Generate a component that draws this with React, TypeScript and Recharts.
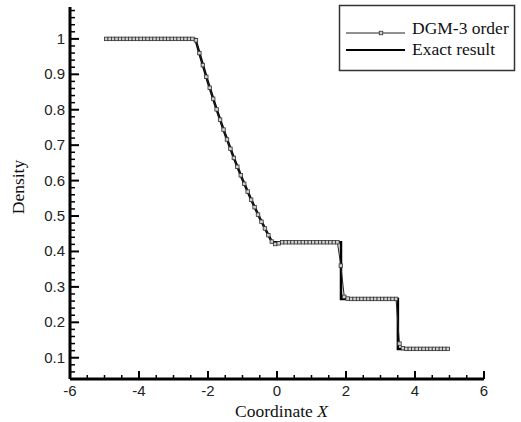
import { LineChart, Line, XAxis, YAxis, Label } from "recharts";

const seriesNames = ["DGM-3 order", "Exact result"];

const xMajorTicks = [-6, -4, -2, 0, 2, 4, 6];
const yMajorTicks = [0.1, 0.2, 0.3, 0.4, 0.5, 0.6, 0.7, 0.8, 0.9, 1];

// cell centres of the DG solution
const dgmX = [
  -4.95, -4.85, -4.75, -4.65, -4.55, -4.45, -4.35, -4.25, -4.15, -4.05,
  -3.95, -3.85, -3.75, -3.65, -3.55, -3.45, -3.35, -3.25, -3.15, -3.05,
  -2.95, -2.85, -2.75, -2.65, -2.55, -2.45, -2.35, -2.25, -2.15, -2.05,
  -1.95, -1.85, -1.75, -1.65, -1.55, -1.45, -1.35, -1.25, -1.15, -1.05,
  -0.95, -0.85, -0.75, -0.65, -0.55, -0.45, -0.35, -0.25, -0.15, -0.05,
  0.05, 0.15, 0.25, 0.35, 0.45, 0.55, 0.65, 0.75, 0.85, 0.95,
  1.05, 1.15, 1.25, 1.35, 1.45, 1.55, 1.65, 1.75, 1.85, 1.95,
  2.05, 2.15, 2.25, 2.35, 2.45, 2.55, 2.65, 2.75, 2.85, 2.95,
  3.05, 3.15, 3.25, 3.35, 3.45, 3.55, 3.65, 3.75, 3.85, 3.95,
  4.05, 4.15, 4.25, 4.35, 4.45, 4.55, 4.65, 4.75, 4.85, 4.95,
];

const dgmDensity = [
  1, 1, 1, 1, 1, 1, 1, 1, 1, 1,
  1, 1, 1, 1, 1, 1, 1, 1, 1, 1,
  1, 1, 1, 1, 1, 1, 0.996, 0.96, 0.926, 0.893,
  0.862, 0.831, 0.801, 0.772, 0.744, 0.716, 0.69, 0.664, 0.639, 0.615,
  0.591, 0.569, 0.546, 0.525, 0.504, 0.484, 0.465, 0.446, 0.428, 0.421,
  0.423, 0.426, 0.426, 0.426, 0.426, 0.426, 0.426, 0.426, 0.426, 0.426,
  0.426, 0.426, 0.426, 0.426, 0.426, 0.426, 0.426, 0.426, 0.36, 0.272,
  0.267, 0.266, 0.266, 0.266, 0.266, 0.266, 0.266, 0.266, 0.266, 0.266,
  0.266, 0.266, 0.266, 0.266, 0.266, 0.14, 0.127, 0.125, 0.125, 0.125,
  0.125, 0.125, 0.125, 0.125, 0.125, 0.125, 0.125, 0.125, 0.125, 0.125,
];

const exactX = [-5, -2.366, -2.25, -2, -1.75, -1.5, -1.25, -1, -0.75, -0.5, -0.25, -0.14, 1.855, 1.855, 3.504, 3.504, 5];
const exactDensity = [1, 1, 0.9597, 0.8774, 0.801, 0.73, 0.664, 0.603, 0.5464, 0.4943, 0.4462, 0.4263, 0.4263, 0.2656, 0.2656, 0.125, 0.125];

const dgmData = dgmX.map((x, i) => ({ x, density: dgmDensity[i] }));
const exactData = exactX.map((x, i) => ({ x, density: exactDensity[i] }));

const stepTicks = (from: number, to: number, step: number) => {
  const out: number[] = [];
  for (let v = from; v <= to + 1e-9; v += step) out.push(Math.round(v * 1000) / 1000);
  return out;
};
const xTicks = stepTicks(-6, 6, 0.5);
const yTicks = stepTicks(0.06, 1.08, 0.02);

const isMajor = (list: number[], v: number) => list.some((m) => Math.abs(m - v) < 1e-6);

const SANS = "'Liberation Sans', Arial, sans-serif";
const SERIF = "'Liberation Serif', 'Times New Roman', serif";

// ticks point inward, labels stay outside
const XTick = (props: any) => {
  const { x, y, payload } = props;
  const major = isMajor(xMajorTicks, payload.value);
  return (
    <g>
      <line x1={x} x2={x} y1={y} y2={y - (major ? 8 : 4)} stroke="#000" strokeWidth={major ? 2 : 1.5} />
      {major && (
        <text x={x} y={y + 17} textAnchor="middle" fontFamily={SANS} fontSize={15} fill="#222">
          {payload.value}
        </text>
      )}
    </g>
  );
};

const YTick = (props: any) => {
  const { x, y, payload } = props;
  const major = isMajor(yMajorTicks, payload.value);
  return (
    <g>
      <line x1={x} x2={x + (major ? 9 : 5)} y1={y} y2={y} stroke="#000" strokeWidth={major ? 2 : 1.5} />
      {major && (
        <text x={x - 5} y={y + 5} textAnchor="end" fontFamily={SANS} fontSize={15} fill="#222">
          {payload.value}
        </text>
      )}
    </g>
  );
};

const SquareDot = (props: any) => {
  const { cx, cy, index } = props;
  return <rect key={index} x={cx - 1.75} y={cy - 1.75} width={3.5} height={3.5} fill="#d0d0d0" stroke="#333" strokeWidth={0.8} />;
};

// legend frame in page coordinates
const LegendBox = () => (
  <svg width={521} height={422} style={{ position: "absolute", left: 0, top: 0, pointerEvents: "none" }}>
    <rect x={339.5} y={5.5} width={175} height={65} fill="#fff" stroke="#333" strokeWidth={1.5} />
    <line x1={346} x2={405} y1={33} y2={33} stroke="#222" strokeWidth={1} />
    <rect x={379.25} y={31.25} width={3.5} height={3.5} fill="#d0d0d0" stroke="#333" strokeWidth={0.8} />
    <text x={412} y={34} fontFamily={SERIF} fontSize={17.5} fill="#111">
      {seriesNames[0]}
    </text>
    <line x1={346} x2={405} y1={50} y2={50} stroke="#000" strokeWidth={2} />
    <text x={412} y={55} fontFamily={SERIF} fontSize={17.5} fill="#111">
      {seriesNames[1]}
    </text>
  </svg>
);

export default function App() {
  return (
    <div style={{ position: "absolute", left: 0, top: 0, width: 521, height: 422, background: "#fff" }}>
      <LineChart width={521} height={422} margin={{ top: 7, right: 37, left: 30, bottom: 13 }}>
        <XAxis
          type="number"
          dataKey="x"
          domain={[-6, 6]}
          ticks={xTicks}
          interval={0}
          tick={<XTick />}
          tickSize={0}
          tickMargin={0}
          tickLine={false}
          axisLine={{ stroke: "#000", strokeWidth: 3 }}
          height={30}
          allowDataOverflow
        >
          <Label
            content={(p: any) => {
              const vb = p.viewBox;
              return (
                <text x={vb.x + vb.width / 2 + 4.5} y={vb.y + 38} textAnchor="middle" fontFamily={SERIF} fontSize={17.5} fill="#111">
                  Coordinate <tspan fontStyle="italic">X</tspan>
                </text>
              );
            }}
          />
        </XAxis>
        <YAxis
          type="number"
          domain={[0.04, 1.09]}
          ticks={yTicks}
          interval={0}
          tick={<YTick />}
          tickSize={0}
          tickMargin={0}
          tickLine={false}
          axisLine={{ stroke: "#000", strokeWidth: 3 }}
          width={40}
          allowDataOverflow
        >
          <Label
            content={(p: any) => {
              const vb = p.viewBox;
              const cx = vb.x + vb.width - 46;
              const cy = vb.y + vb.height / 2 - 6;
              return (
                <text x={cx} y={cy} transform={`rotate(-90 ${cx} ${cy})`} textAnchor="middle" fontFamily={SERIF} fontSize={17.5} fill="#111">
                  Density
                </text>
              );
            }}
          />
        </YAxis>
        <Line
          data={exactData}
          dataKey="density"
          name={seriesNames[1]}
          type="linear"
          stroke="#000"
          strokeWidth={2.5}
          dot={false}
          isAnimationActive={false}
        />
        <Line
          data={dgmData}
          dataKey="density"
          name={seriesNames[0]}
          type="linear"
          stroke="#222"
          strokeWidth={1}
          dot={<SquareDot />}
          isAnimationActive={false}
        />
      </LineChart>
      <LegendBox />
    </div>
  );
}
